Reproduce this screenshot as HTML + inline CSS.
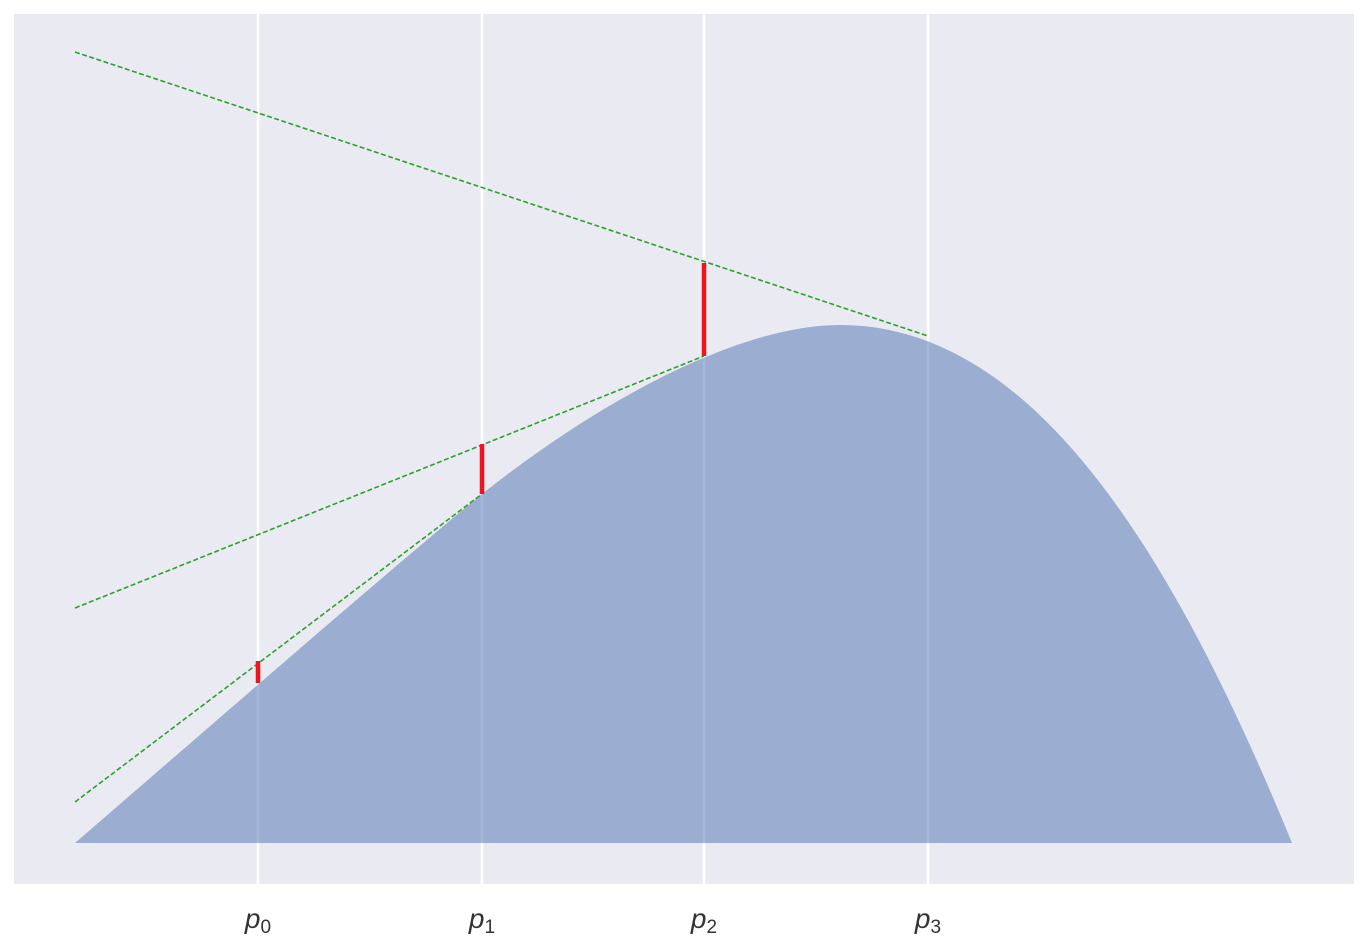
<!DOCTYPE html>
<html><head><style>body{margin:0;background:#fff}</style></head><body>
<svg width="1370" height="942" xmlns="http://www.w3.org/2000/svg">
<rect x="14" y="14" width="1340" height="870" fill="#EAEAF2"/>
<g stroke="#fff" stroke-width="2.5">
<line x1="258" y1="14" x2="258" y2="884"/><line x1="482" y1="14" x2="482" y2="884"/>
<line x1="704" y1="14" x2="704" y2="884"/><line x1="928" y1="14" x2="928" y2="884"/>
</g>
<path fill="#4C72B0" fill-opacity="0.5" d="M75,843 C200,735 380,578 482,494 C600,400 740,325 840,325 C1020,325 1160,520 1292,843 Z"/>
<g stroke="#2ca02c" stroke-width="1.6" stroke-dasharray="5,2.5" fill="none">
<line x1="75" y1="52" x2="928" y2="336"/>
<line x1="75" y1="608" x2="704" y2="356"/>
<line x1="75" y1="802" x2="482" y2="494"/>
</g>
<g stroke="#f0141e" stroke-width="4.5">
<line x1="258" y1="661" x2="258" y2="683"/>
<line x1="482" y1="444" x2="482" y2="494"/>
<line x1="704" y1="263" x2="704" y2="356"/>
</g>
<g font-family="Liberation Sans, sans-serif" font-size="28" font-style="italic" fill="#333" text-anchor="middle">
<text x="258" y="928">p<tspan font-size="19" font-style="normal" dy="5">0</tspan></text>
<text x="482" y="928">p<tspan font-size="19" font-style="normal" dy="5">1</tspan></text>
<text x="704" y="928">p<tspan font-size="19" font-style="normal" dy="5">2</tspan></text>
<text x="928" y="928">p<tspan font-size="19" font-style="normal" dy="5">3</tspan></text>
</g>
</svg>
</body></html>
